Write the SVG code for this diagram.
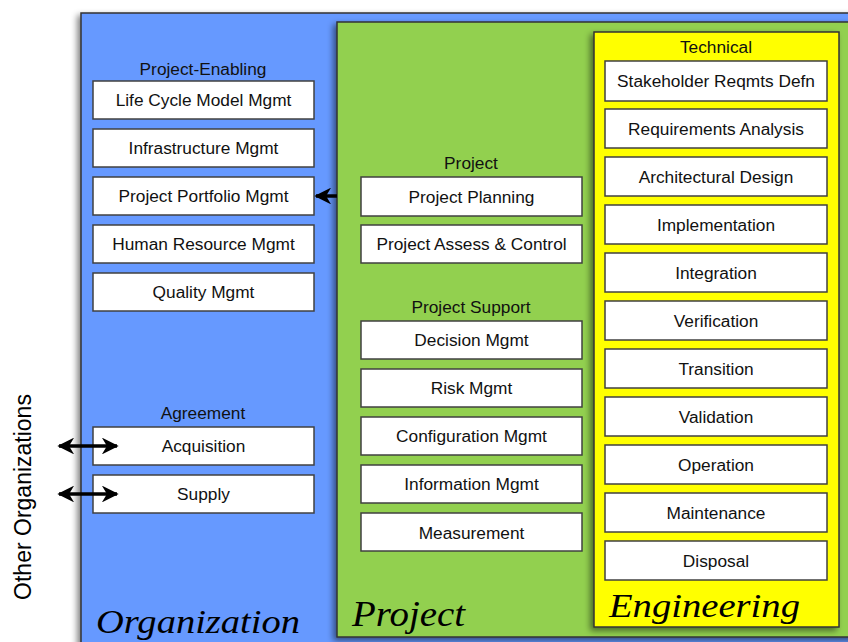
<svg xmlns="http://www.w3.org/2000/svg" width="848" height="642" viewBox="0 0 848 642">
<style>
.box{fill:#fff;stroke:#404040;stroke-width:1.5}
.t{font-family:"Liberation Sans",Arial,sans-serif;font-size:17.3px;fill:#111;text-anchor:middle}
.h{font-family:"Liberation Sans",Arial,sans-serif;font-size:17.3px;fill:#111;text-anchor:middle}
.big{font-family:"Liberation Serif","Times New Roman",serif;font-style:italic;fill:#000}
.cont{stroke:#333;stroke-width:1.5}
.ln{stroke:#000;stroke-width:3.5;fill:none}
</style>
<defs>
<filter id="sh" x="-5%" y="-5%" width="115%" height="115%">
<feGaussianBlur in="SourceAlpha" stdDeviation="3"/>
<feOffset dx="-3" dy="3" result="b"/>
<feComponentTransfer><feFuncA type="linear" slope="0.5"/></feComponentTransfer>
<feMerge><feMergeNode/><feMergeNode in="SourceGraphic"/></feMerge>
</filter>
<marker id="ah" viewBox="0 0 10 10" refX="9" refY="5" markerWidth="5" markerHeight="4.8" orient="auto-start-reverse" markerUnits="strokeWidth">
<path d="M0,0 L10,5 L0,10 L3,5 Z" fill="#000"/>
</marker>
</defs>
<rect width="848" height="642" fill="#fff"/>
<g id="organization">
<rect class="cont" x="81" y="13" width="790" height="660" fill="#6699ff" filter="url(#sh)"/>
<text class="big" x="96" y="633" font-size="34" textLength="204" lengthAdjust="spacingAndGlyphs">Organization</text>
</g>
<g id="project">
<rect class="cont" x="337" y="22" width="530" height="615" fill="#92d050" filter="url(#sh)"/>
<text class="big" x="352" y="626" font-size="35" textLength="113" lengthAdjust="spacingAndGlyphs">Project</text>
</g>
<g id="engineering">
<rect class="cont" x="594" y="32" width="245" height="595" fill="#ffff00" filter="url(#sh)"/>
<text class="big" x="609" y="617" font-size="33" textLength="191" lengthAdjust="spacingAndGlyphs">Engineering</text>
</g>
<g id="labels">
<text class="h" x="203" y="75">Project-Enabling</text>
<text class="h" x="203" y="419">Agreement</text>
<text class="h" x="471" y="169">Project</text>
<text class="h" x="471" y="313">Project Support</text>
<text class="h" x="716" y="53">Technical</text>
<text font-family="Liberation Sans,Arial,sans-serif" font-size="23" fill="#000" text-anchor="middle" transform="translate(31,497) rotate(-90)">Other Organizations</text>
</g>
<g id="n-lcm"><rect class="box" x="93" y="81" width="221" height="38"/><text class="t" x="203.5" y="106">Life Cycle Model Mgmt</text></g>
<g id="n-infra"><rect class="box" x="93" y="129" width="221" height="38"/><text class="t" x="203.5" y="154">Infrastructure Mgmt</text></g>
<g id="n-portfolio"><rect class="box" x="93" y="177" width="221" height="38"/><text class="t" x="203.5" y="202">Project Portfolio Mgmt</text></g>
<g id="n-hr"><rect class="box" x="93" y="225" width="221" height="38"/><text class="t" x="203.5" y="250">Human Resource Mgmt</text></g>
<g id="n-quality"><rect class="box" x="93" y="273" width="221" height="38"/><text class="t" x="203.5" y="298">Quality Mgmt</text></g>
<g id="n-acq"><rect class="box" x="93" y="427" width="221" height="38"/><text class="t" x="203.5" y="452">Acquisition</text></g>
<g id="n-supply"><rect class="box" x="93" y="475" width="221" height="38"/><text class="t" x="203.5" y="500">Supply</text></g>
<g id="n-planning"><rect class="box" x="361" y="177" width="221" height="39"/><text class="t" x="471.5" y="203">Project Planning</text></g>
<g id="n-assess"><rect class="box" x="361" y="225" width="221" height="38"/><text class="t" x="471.5" y="250">Project Assess &amp; Control</text></g>
<g id="n-decision"><rect class="box" x="361" y="321" width="221" height="38"/><text class="t" x="471.5" y="346">Decision Mgmt</text></g>
<g id="n-risk"><rect class="box" x="361" y="369" width="221" height="38"/><text class="t" x="471.5" y="394">Risk Mgmt</text></g>
<g id="n-config"><rect class="box" x="361" y="417" width="221" height="38"/><text class="t" x="471.5" y="442">Configuration Mgmt</text></g>
<g id="n-info"><rect class="box" x="361" y="465" width="221" height="38"/><text class="t" x="471.5" y="490">Information Mgmt</text></g>
<g id="n-meas"><rect class="box" x="361" y="513" width="221" height="38"/><text class="t" x="471.5" y="539">Measurement</text></g>
<g id="n-stake"><rect class="box" x="605" y="61" width="222" height="40"/><text class="t" x="716" y="87">Stakeholder Reqmts Defn</text></g>
<g id="n-req"><rect class="box" x="605" y="109" width="222" height="39"/><text class="t" x="716" y="135">Requirements Analysis</text></g>
<g id="n-arch"><rect class="box" x="605" y="157" width="222" height="39"/><text class="t" x="716" y="183">Architectural Design</text></g>
<g id="n-impl"><rect class="box" x="605" y="205" width="222" height="39"/><text class="t" x="716" y="231">Implementation</text></g>
<g id="n-integ"><rect class="box" x="605" y="253" width="222" height="39"/><text class="t" x="716" y="279">Integration</text></g>
<g id="n-verif"><rect class="box" x="605" y="301" width="222" height="39"/><text class="t" x="716" y="327">Verification</text></g>
<g id="n-trans"><rect class="box" x="605" y="349" width="222" height="39"/><text class="t" x="716" y="375">Transition</text></g>
<g id="n-valid"><rect class="box" x="605" y="397" width="222" height="39"/><text class="t" x="716" y="423">Validation</text></g>
<g id="n-oper"><rect class="box" x="605" y="445" width="222" height="39"/><text class="t" x="716" y="471">Operation</text></g>
<g id="n-maint"><rect class="box" x="605" y="493" width="222" height="39"/><text class="t" x="716" y="519">Maintenance</text></g>
<g id="n-disp"><rect class="box" x="605" y="541" width="222" height="39"/><text class="t" x="716" y="567">Disposal</text></g>
<g id="connectors">
<line class="ln" x1="337" y1="196" x2="316" y2="196" marker-end="url(#ah)"/>
<line class="ln" x1="59" y1="446" x2="117" y2="446" marker-start="url(#ah)" marker-end="url(#ah)"/>
<line class="ln" x1="59" y1="494" x2="117" y2="494" marker-start="url(#ah)" marker-end="url(#ah)"/>
</g>
</svg>
